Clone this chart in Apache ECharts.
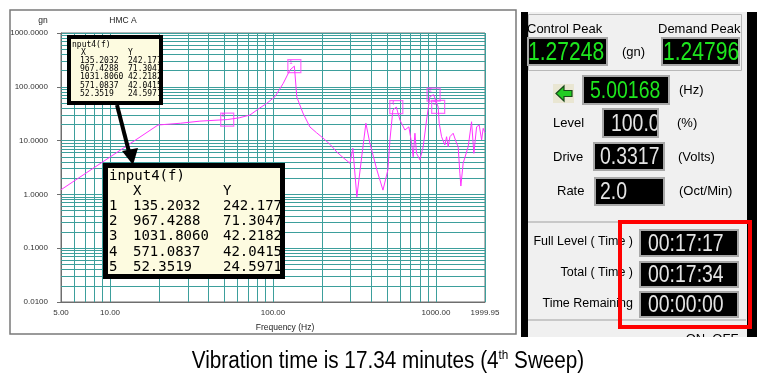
<!DOCTYPE html>
<html>
<head>
<meta charset="utf-8">
<script src="https://cdn.jsdelivr.net/npm/echarts@6/dist/echarts.min.js"></script>
<style>
html, body { margin: 0; padding: 0; background: #fff; }
#chart { width: 765px; height: 383px; }
</style>
</head>
<body>
<div id="chart"></div>
<script>
// control response, 4th sweep (Hz / gn)
const freqHz = [5, 19.7, 27, 35.6, 52.35, 62, 72.2, 83.1, 91.4, 102.8, 115.6, 127, 135.2, 136.3, 140, 152.6, 168.5, 185, 202.5, 225,
    246.8, 270, 296.5, 309, 327, 350, 371.6, 393, 434, 473, 507, 522, 544, 571.08, 601, 645, 682, 709, 725, 743,
    760, 797, 835, 876, 918, 967.43, 1000, 1031.81, 1047, 1083, 1134, 1162, 1189, 1218, 1275, 1339, 1369, 1402, 1422, 1469,
    1577, 1654, 1709, 1776, 1842, 1906, 1949, 1999.95]
const ampGn = [1.22, 19.5, 21, 23, 24.6, 26.5, 29.9, 40.5, 49, 65.5, 116, 205, 242.18, 181, 64.6, 32.6, 17.9, 14, 11.2, 8.4,
    6.1, 4.8, 3.8, 7.2, 0.9, 4.9, 21, 9.0, 2.85, 1.2, 2.85, 10.3, 37, 42.04, 24.2, 15.7, 18, 8.9, 5.0, 13.7,
    5.8, 4.4, 7.7, 24.2, 65.5, 71.3, 55, 42.2, 21, 11.8, 8.3, 11.8, 7.7, 11.8, 13.7, 8.9, 7.7, 2.47, 1.43, 3.8,
    7.7, 22.4, 5.8, 18, 19.5, 10.3, 16.9, 14]

// cursor table input4(f)
const markNo = [1, 2, 3, 4, 5]
const markX = [135.2032, 967.4288, 1031.8060, 571.0837, 52.3519]
const markY = [242.177, 71.3047, 42.2182, 42.0415, 24.5971]

// axis range
const xMin = 5, xMax = 1999.95
const yMin = 0.01, yMax = 1000

// control panel readouts
const controlPeak = '1.27248'
const demandPeak = '1.24796'
const sweepFreq = '5.00168'
const levelPct = '100.0'
const driveVolts = '0.3317'
const rateOct = '2.0'
const fullLevelTime = '00:17:17'
const totalTime = '00:17:34'
const timeRemaining = '00:00:00'

const gridColor = '#3d9f9c'
const curveColor = '#ff33ff'
const sans = 'Liberation Sans'
const mono = 'DejaVu Sans Mono'

// log grid lines 1..9 per decade
let gridLines = []
for (let e = 0; e <= 3; e++) {
    for (let k = 1; k <= 9; k++) {
        let v = k * Math.pow(10, e)
        if (v > xMin && v < xMax) gridLines.push({ xAxis: v })
    }
}
for (let e = -2; e <= 2; e++) {
    for (let k = 1; k <= 9; k++) {
        let v = +(k * Math.pow(10, e)).toPrecision(3)
        if (v > yMin && v < yMax) gridLines.push({ yAxis: v })
    }
}

let curve = freqHz.map((f, i) => [f, ampGn[i]])
let cursors = markX.map((x, i) => [x, markY[i], markNo[i]])

function txt(x, y, s, o) {
    o = o || {}
    return {
        type: 'text', x: x, y: y, z: o.z || 20, scaleX: o.sx || 1,
        style: {
            text: s, fill: o.color || '#000',
            fontSize: o.size || 13, fontFamily: o.family || sans,
            align: o.align || 'left', textAlign: o.align || 'left',
            verticalAlign: 'middle', textVerticalAlign: 'middle'
        }
    }
}
function box(x, y, w, h, fill, stroke, lw, z) {
    return {
        type: 'rect', z: z || 15,
        shape: { x: x, y: y, width: w, height: h },
        style: { fill: fill || 'none', stroke: stroke || 'none', lineWidth: lw || 0 }
    }
}
function readout(x, y, w, h, s, color, size, tx) {
    return [
        box(x, y, w, h, '#000', '#a8a8a8', 2, 15),
        txt(tx, y + h / 2 + 1, s, { color: color, size: size, sx: 0.81, z: 17 })
    ]
}

// cursor table boxes
let g = []
g.push(box(10, 10, 506, 324, 'none', '#7a7a7a', 1.5, 1))
g.push(txt(43, 21, 'gn', { size: 8.5, align: 'center', color: '#222' }))
g.push(txt(123, 21, 'HMC A', { size: 8.5, align: 'center', color: '#222' }))
g.push(txt(285, 328, 'Frequency (Hz)', { size: 8.5, align: 'center', color: '#222' }))

// small table
g.push(box(69, 37, 92, 66, '#fdfbe0', null, 0, 10))
g.push(txt(72, 45, 'nput4(f)', { family: mono, size: 8, z: 12 }))
g.push(txt(81, 53, 'X', { family: mono, size: 8, z: 12 }))
g.push(txt(128, 53, 'Y', { family: mono, size: 8, z: 12 }))
markNo.forEach((n, i) => {
    g.push(txt(80, 61 + i * 8.2, markX[i].toFixed(4), { family: mono, size: 8, z: 12 }))
    g.push(txt(128, 61 + i * 8.2, String(markY[i]), { family: mono, size: 8, z: 12 }))
})
g.push(box(69, 37, 92, 66, 'none', '#000', 4, 13))

// arrow
g.push({ type: 'line', z: 13, shape: { x1: 117, y1: 105, x2: 129, y2: 152 }, style: { stroke: '#000', lineWidth: 4 } })
g.push({ type: 'polygon', z: 13, shape: { points: [[133, 165], [122, 151], [138, 148]] }, style: { fill: '#000' } })

// big table
g.push(box(105.5, 165.5, 177, 111, '#fdfbe0', null, 0, 10))
g.push(txt(109, 176, 'input4(f)', { family: mono, size: 14, z: 12 }))
g.push(txt(133, 191, 'X', { family: mono, size: 14, z: 12 }))
g.push(txt(223, 191, 'Y', { family: mono, size: 14, z: 12 }))
markNo.forEach((n, i) => {
    let yy = 206 + i * 15.3
    g.push(txt(109, yy, String(n), { family: mono, size: 14, z: 12 }))
    g.push(txt(133, yy, markX[i].toFixed(4), { family: mono, size: 14, z: 12 }))
    g.push(txt(223, yy, String(markY[i]), { family: mono, size: 14, z: 12 }))
})
g.push(box(105.5, 165.5, 177, 111, 'none', '#000', 5, 13))

// control panel
g.push(box(521, 12, 236, 325, '#f0f0f0', null, 0, 5))
g.push(box(521, 12, 7, 325, '#000', null, 0, 6))
g.push(box(747, 12, 10, 325, '#000', null, 0, 6))
g.push(box(528.5, 14.5, 213, 56, 'none', '#b9b9b9', 1, 7))
g.push(txt(527, 29, 'Control Peak'))
g.push(txt(658, 29, 'Demand Peak'))
g = g.concat(readout(528, 38, 79, 27, controlPeak, '#1ee61e', 26, 528))
g.push(txt(622, 52, '(gn)'))
g = g.concat(readout(662, 38, 77, 27, demandPeak, '#1ee61e', 26, 663))

g.push(box(553, 84, 21, 19, '#e9e6d2', null, 0, 15))
g.push({
    type: 'polygon', z: 16,
    shape: { points: [[556, 93.5], [564, 86], [564, 90.5], [572, 90.5], [572, 96.5], [564, 96.5], [564, 101]] },
    style: { fill: '#22cc22', stroke: '#184818', lineWidth: 1.2 }
})
g = g.concat(readout(583, 76, 86, 28, sweepFreq, '#1ee61e', 24, 590))
g.push(txt(679, 90, '(Hz)'))

g.push(txt(553, 123, 'Level'))
g = g.concat(readout(603, 109, 55, 28, levelPct, '#e4e4e4', 24, 611))
g.push(box(657, 108, 8, 30, '#f0f0f0', null, 0, 18))
g.push(box(603, 109, 55, 28, 'none', '#a8a8a8', 2, 19))
g.push(txt(677, 123, '(%)'))

g.push(txt(553, 157, 'Drive'))
g = g.concat(readout(594, 143, 70, 27, driveVolts, '#e4e4e4', 24, 600))
g.push(txt(678, 157, '(Volts)'))

g.push(txt(557, 191, 'Rate'))
g = g.concat(readout(595, 178, 69, 27, rateOct, '#e4e4e4', 24, 600))
g.push(txt(679, 191, '(Oct/Min)'))

g.push({ type: 'line', z: 7, shape: { x1: 528, y1: 222, x2: 746, y2: 222 }, style: { stroke: '#a0a0a0', lineWidth: 1 } })
g.push({ type: 'line', z: 7, shape: { x1: 528, y1: 320, x2: 746, y2: 320 }, style: { stroke: '#a0a0a0', lineWidth: 1 } })

g.push(txt(633, 242, 'Full Level ( Time )', { size: 12.5, align: 'right' }))
g.push(txt(633, 273, 'Total ( Time )', { size: 12.5, align: 'right' }))
g.push(txt(633, 304, 'Time Remaining', { size: 12.5, align: 'right' }))
g = g.concat(readout(640, 230, 98, 26, fullLevelTime, '#e4e4e4', 24, 648))
g = g.concat(readout(640, 262, 98, 25, totalTime, '#e4e4e4', 24, 648))
g = g.concat(readout(640, 292, 98, 25, timeRemaining, '#e4e4e4', 24, 648))
g.push(box(620, 222, 130, 105, 'none', '#ff0000', 4, 25))

g.push(txt(712, 339, 'ON  OFF', { align: 'center', size: 13, z: 8 }))
g.push(box(515, 337, 250, 12, '#fff', null, 0, 9))

// caption
g.push({
    type: 'text', x: 388, y: 362, z: 20, scaleX: 0.9,
    style: {
        text: '{a|Vibration time is 17.34 minutes (4}{s|th}{a| Sweep)}',
        align: 'center', textAlign: 'center', verticalAlign: 'middle', textVerticalAlign: 'middle',
        fill: '#000',
        rich: {
            a: { fontSize: 23, fontFamily: sans, fill: '#000', lineHeight: 26 },
            s: { fontSize: 13, fontFamily: sans, fill: '#000', lineHeight: 14, verticalAlign: 'top' }
        }
    }
})

let option = {
    backgroundColor: '#fff',
    animation: false,
    grid: {
        left: 61, top: 33, right: 280, bottom: 81,
        show: true, backgroundColor: '#fff', borderColor: '#6e6e6e', borderWidth: 1
    },
    xAxis: {
        type: 'log', logBase: 10, min: xMin, max: xMax,
        axisLine: { lineStyle: { color: '#6e6e6e' } },
        axisTick: { show: false },
        splitLine: { show: true, lineStyle: { color: gridColor, width: 1 } },
        axisLabel: {
            interval: 0, margin: 7, fontSize: 8, fontFamily: sans, color: '#333',
            showMinLabel: true, showMaxLabel: true,
            formatter: v => Number(v).toFixed(2)
        }
    },
    yAxis: {
        type: 'log', logBase: 10, min: yMin, max: yMax,
        axisLine: { show: true, lineStyle: { color: '#6e6e6e' } },
        axisTick: { show: true, length: 4, lineStyle: { color: '#6e6e6e' } },
        splitLine: { show: true, lineStyle: { color: gridColor, width: 1 } },
        axisLabel: {
            margin: 13, fontSize: 8, fontFamily: sans, color: '#333',
            formatter: v => Number(v).toFixed(4)
        }
    },
    series: [
        {
            name: 'grid', type: 'line', data: [[xMin, 1]], showSymbol: false, silent: true, z: 1,
            lineStyle: { opacity: 0 },
            markLine: {
                silent: true, z: 1, animation: false, symbol: ['none', 'none'],
                label: { show: false },
                lineStyle: { color: gridColor, width: 1, type: 'solid' },
                emphasis: { disabled: true },
                data: gridLines
            }
        },
        {
            name: 'input4(f)', type: 'line', data: curve, showSymbol: false, z: 3,
            lineStyle: { color: curveColor, width: 1 }
        },
        {
            name: 'cursor', type: 'scatter', data: cursors, z: 4,
            symbol: 'rect', symbolSize: 13,
            itemStyle: { color: 'rgba(0,0,0,0)', borderColor: '#ff44ff', borderWidth: 1.2 },
            label: { show: true, position: [2, 0], fontSize: 6, color: '#ff00ff', formatter: p => p.data[2] }
        }
    ],
    graphic: { elements: g }
}

var myChart = echarts.init(document.getElementById('chart'))
myChart.setOption(option)
</script>
</body>
</html>
